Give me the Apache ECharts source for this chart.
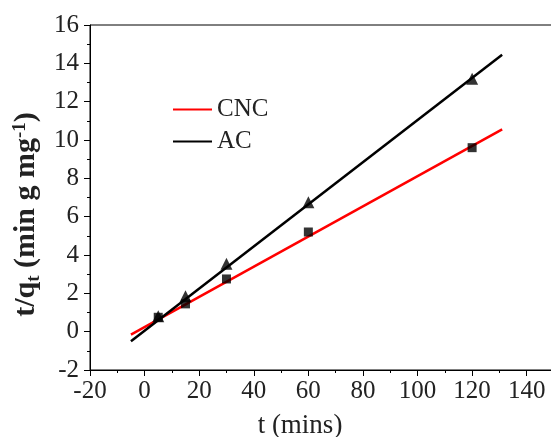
<!DOCTYPE html>
<html><head><meta charset="utf-8">
<script src="https://cdn.jsdelivr.net/npm/echarts@6/dist/echarts.min.js"></script>
<style>html,body{margin:0;padding:0;background:#fff;}#c{width:551px;height:437px;}</style>
</head><body><div id="c"></div>
<script>
const times = [5, 15, 30, 60, 120];
const cncValues = [0.75, 1.45, 2.75, 5.2, 9.6];
const acValues = [0.8, 1.85, 3.55, 6.75, 13.2];
const fitX = [-5, 131];
const cncFit = [-0.15, 10.55];
const acFit = [-0.5, 14.45];
const xTicks = [-20, 0, 20, 40, 60, 80, 100, 120, 140];
const yTicks = [-2, 0, 2, 4, 6, 8, 10, 12, 14, 16];

const font = 'Liberation Serif';
const chart = echarts.init(document.getElementById('c'));
chart.setOption({
  animation: false,
  backgroundColor: '#fff',
  grid: {left: 90, top: 25, width: 464, height: 345, show: true, borderColor: '#000', borderWidth: 1,
    containLabel: false, outerBoundsMode: 'none'},
  legend: {
    left: 168, top: 92, orient: 'vertical', itemWidth: 39, itemHeight: 14, itemGap: 7,
    data: [{name: 'CNC', icon: 'path://M0,6 L40,6 L40,8 L0,8 Z'}, {name: 'AC', icon: 'path://M0,6 L40,6 L40,8 L0,8 Z'}],
    textStyle: {fontFamily: font, fontSize: 25, color: '#222'}
  },
  xAxis: {
    type: 'value', min: -20, max: 150, interval: 20,
    axisLine: {show: true, onZero: false, lineStyle: {color: '#000', width: 1}},
    axisTick: {show: true, inside: false, length: 6, lineStyle: {color: '#000'}},
    minorTick: {show: true, splitNumber: 2, length: 3, lineStyle: {color: '#000'}},
    splitLine: {show: false},
    axisLabel: {fontFamily: font, fontSize: 25, color: '#222', margin: 9,
      formatter: v => xTicks.includes(v) ? String(v) : ''},
    name: 't (mins)', nameLocation: 'middle', nameGap: 42,
    nameTextStyle: {fontFamily: font, fontSize: 27, color: '#222', padding: [0, 44, 0, 0]}
  },
  yAxis: {
    type: 'value', min: -2, max: 16, interval: 2,
    axisLine: {show: true, onZero: false, lineStyle: {color: '#000', width: 1}},
    axisTick: {show: true, inside: false, length: 6, lineStyle: {color: '#000'}},
    minorTick: {show: true, splitNumber: 2, length: 3, lineStyle: {color: '#000'}},
    splitLine: {show: false},
    axisLabel: {fontFamily: font, fontSize: 25, color: '#222', margin: 11,
      formatter: v => yTicks.includes(v) ? String(v) : ''},
    name: '{b|t/q}{sub|t}{b| (min g mg}{sup|-1}{b|)}', nameLocation: 'middle', nameGap: 42,
    nameTextStyle: {
      fontFamily: font, fontSize: 30, fontWeight: 'bold', color: '#222', padding: [0, 34, 0, 0],
      rich: {
        b: {fontFamily: font, fontSize: 30, fontWeight: 'bold', color: '#222'},
        sub: {fontFamily: font, fontSize: 19, fontWeight: 'bold', color: '#222', verticalAlign: 'bottom', padding: [12, 0, 0, 0]},
        sup: {fontFamily: font, fontSize: 19, fontWeight: 'bold', color: '#222', verticalAlign: 'top', padding: [0, 0, 14, 0]}
      }
    }
  },
  series: [
    {name: 'CNC', type: 'line', data: fitX.map((x, i) => [x, cncFit[i]]), symbol: 'none',
      lineStyle: {color: '#ff0000', width: 2.5}, itemStyle: {color: '#ff0000'}, z: 2},
    {name: 'AC', type: 'line', data: fitX.map((x, i) => [x, acFit[i]]), symbol: 'none',
      lineStyle: {color: '#000', width: 2.5}, itemStyle: {color: '#000'}, z: 2},
    {name: 'CNC pts', type: 'scatter', data: times.map((t, i) => [t, cncValues[i]]),
      symbol: 'rect', symbolSize: 9, itemStyle: {color: '#000'}, z: 3},
    {name: 'AC pts', type: 'scatter', data: times.map((t, i) => [t, acValues[i]]),
      symbol: 'triangle', symbolSize: 12, itemStyle: {color: '#000'}, z: 3}
  ]
});
</script></body></html>
